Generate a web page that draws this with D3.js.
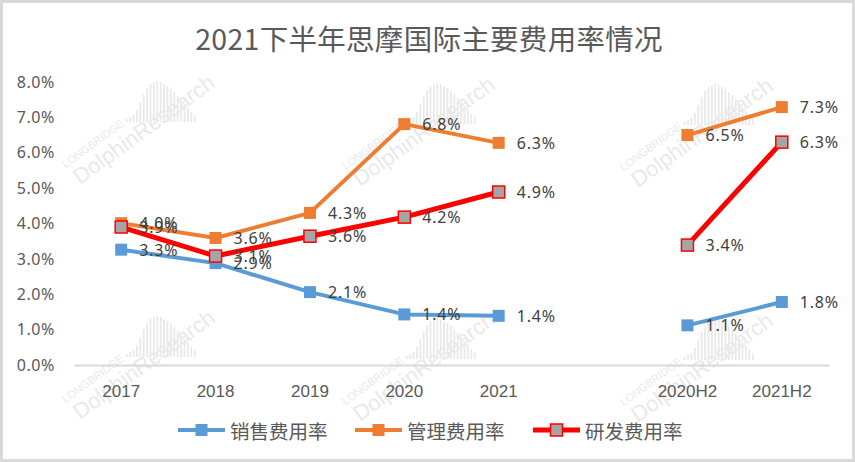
<!DOCTYPE html>
<html>
<head>
<meta charset="utf-8">
<script src="https://cdn.jsdelivr.net/npm/d3@7/dist/d3.min.js"></script>
<style>
  body { margin: 0; background: #fff; }
  svg { display: block; }
</style>
</head>
<body>
<svg></svg>
<script>
var categories = ['2017', '2018', '2019', '2020', '2021', 'gap', '2020H2', '2021H2'];
var sellingRate = [3.26, 2.88, 2.06, 1.43, 1.39, null, 1.12, 1.78];
var adminRate = [4.01, 3.59, 4.30, 6.81, 6.28, null, 6.50, 7.29];
var rdRate = [3.90, 3.08, 3.64, 4.18, 4.89, null, 3.39, 6.30];
var seriesNames = ['销售费用率', '管理费用率', '研发费用率'];
var yTicks = [0, 1, 2, 3, 4, 5, 6, 7, 8];

var width = 855;
var height = 462;
var margin = { top: 82, right: 26, bottom: 97, left: 74 };

var svg = d3.select('svg')
  .attr('width', width)
  .attr('height', height);

// frame
svg.append('rect')
  .attr('x', 1.5).attr('y', 1.5)
  .attr('width', width - 3).attr('height', height - 3)
  .attr('fill', '#fff')
  .attr('stroke', '#d9d9d9')
  .attr('stroke-width', 3);

// watermarks
function watermark(x0, y0) {
  var wm = svg.append('g')
    .attr('transform', 'translate(' + x0 + ',' + y0 + ') rotate(-36)')
    .attr('fill', '#e9e9e9');
  wm.append('text')
    .attr('x', 0).attr('y', 0)
    .style('font-family', 'Liberation Sans, Arial, sans-serif')
    .style('font-size', '22px')
    .text('DolphinResearch');
  wm.append('text')
    .attr('x', -2).attr('y', -22)
    .style('font-family', 'Liberation Sans, Arial, sans-serif')
    .style('font-size', '11px')
    .text('LONGBRIDGE');
  var bars = [3, 5, 7, 12, 20, 28, 34, 38, 40, 41, 40, 38, 36, 33, 30, 26, 22, 18, 14, 10, 7];
  wm.selectAll('rect.bar')
    .data(bars)
    .enter().append('rect')
    .attr('class', 'bar')
    .attr('x', function(d, i) { return 74 + i * 3.4; })
    .attr('y', function(d) { return -24 - d; })
    .attr('width', 1.8)
    .attr('height', function(d) { return d; })
    .attr('transform', 'rotate(36,74,-24)');
}
[[80, 185], [360, 187], [638, 188], [80, 420], [360, 422], [638, 423]].forEach(function(p) {
  watermark(p[0], p[1]);
});

var x = d3.scaleBand()
  .domain(categories)
  .range([margin.left, width - margin.right])
  .padding(0);
var y = d3.scaleLinear()
  .domain([0, 8])
  .range([height - margin.bottom, margin.top]);

function cx(i) {
  return x(categories[i]) + x.bandwidth() / 2;
}

// title
svg.append('text')
  .attr('x', 429)
  .attr('y', 37)
  .attr('text-anchor', 'middle')
  .attr('dominant-baseline', 'central')
  .attr('fill', '#595959')
  .style('font-family', 'Noto Sans CJK SC, sans-serif')
  .style('font-size', '28.5px')
  .style('letter-spacing', '0.3px')
  .text('2021下半年思摩国际主要费用率情况');

// y axis
var yAxis = d3.axisLeft(y)
  .tickValues(yTicks)
  .tickSize(0)
  .tickPadding(0)
  .tickFormat(function(d) { return d.toFixed(1) + '%'; });
var yg = svg.append('g')
  .attr('transform', 'translate(55,0)')
  .call(yAxis);
yg.select('.domain').remove();
yg.selectAll('text')
  .attr('fill', '#595959')
  .style('font-family', 'Noto Sans, sans-serif')
  .style('font-size', '16px')
  .style('letter-spacing', '0.6px');

// x axis
var xAxis = d3.axisBottom(x)
  .tickSize(0)
  .tickPadding(20)
  .tickFormat(function(d) { return d === 'gap' ? '' : d; });
var xg = svg.append('g')
  .attr('transform', 'translate(0,' + y(0) + ')')
  .call(xAxis);
xg.select('.domain')
  .attr('stroke', '#d9d9d9')
  .attr('stroke-width', 2);
xg.selectAll('text')
  .attr('fill', '#595959')
  .style('font-family', 'Liberation Sans Narrow, Liberation Sans, sans-serif')
  .style('font-size', '17px');

var series = [
  { name: seriesNames[0], values: sellingRate, color: '#5b9bd5', width: 4, fill: '#5b9bd5', stroke: 'none' },
  { name: seriesNames[1], values: adminRate, color: '#ed7d31', width: 4, fill: '#ed7d31', stroke: 'none' },
  { name: seriesNames[2], values: rdRate, color: '#ff0000', width: 5, fill: '#a5a5a5', stroke: '#ff0000' }
];

var line = d3.line()
  .defined(function(d) { return d != null; })
  .x(function(d, i) { return cx(i); })
  .y(function(d) { return y(d); });

series.forEach(function(s) {
  svg.append('path')
    .datum(s.values)
    .attr('fill', 'none')
    .attr('stroke', s.color)
    .attr('stroke-width', s.width)
    .attr('stroke-linejoin', 'round')
    .attr('d', line);

  var pts = s.values.map(function(v, i) { return { v: v, i: i }; })
    .filter(function(p) { return p.v != null; });
  svg.selectAll(null)
    .data(pts)
    .enter().append('rect')
    .attr('x', function(p) { return cx(p.i) - 6; })
    .attr('y', function(p) { return y(p.v) - 6; })
    .attr('width', 12)
    .attr('height', 12)
    .attr('fill', s.fill)
    .attr('stroke', s.stroke)
    .attr('stroke-width', s.stroke === 'none' ? 0 : 1.5);
});

// data labels
series.forEach(function(s) {
  var pts = s.values.map(function(v, i) { return { v: v, i: i }; })
    .filter(function(p) { return p.v != null; });
  svg.selectAll(null)
    .data(pts)
    .enter().append('text')
    .attr('x', function(p) { return cx(p.i) + 18; })
    .attr('y', function(p) { return y(p.v); })
    .attr('dominant-baseline', 'central')
    .attr('fill', '#404040')
    .style('font-family', 'Noto Sans, sans-serif')
    .style('font-size', '16px')
    .style('letter-spacing', '0.8px')
    .text(function(p) { return p.v.toFixed(1) + '%'; });
});

// legend
var legendX = [178, 355, 533];
var legend = svg.selectAll('g.legend')
  .data(series)
  .enter().append('g')
  .attr('class', 'legend')
  .attr('transform', function(d, i) { return 'translate(' + legendX[i] + ',430)'; });
legend.append('line')
  .attr('x1', 0).attr('x2', 47)
  .attr('y1', 0).attr('y2', 0)
  .attr('stroke', function(d) { return d.color; })
  .attr('stroke-width', function(d) { return d.width; });
legend.append('rect')
  .attr('x', 17.5).attr('y', -6)
  .attr('width', 12).attr('height', 12)
  .attr('fill', function(d) { return d.fill; })
  .attr('stroke', function(d) { return d.stroke; })
  .attr('stroke-width', function(d) { return d.stroke === 'none' ? 0 : 1.5; });
legend.append('text')
  .attr('x', 52)
  .attr('y', 0)
  .attr('dominant-baseline', 'central')
  .attr('fill', '#595959')
  .style('font-family', 'Noto Sans CJK SC, sans-serif')
  .style('font-size', '19.5px')
  .text(function(d) { return d.name; });
</script>
</body>
</html>
